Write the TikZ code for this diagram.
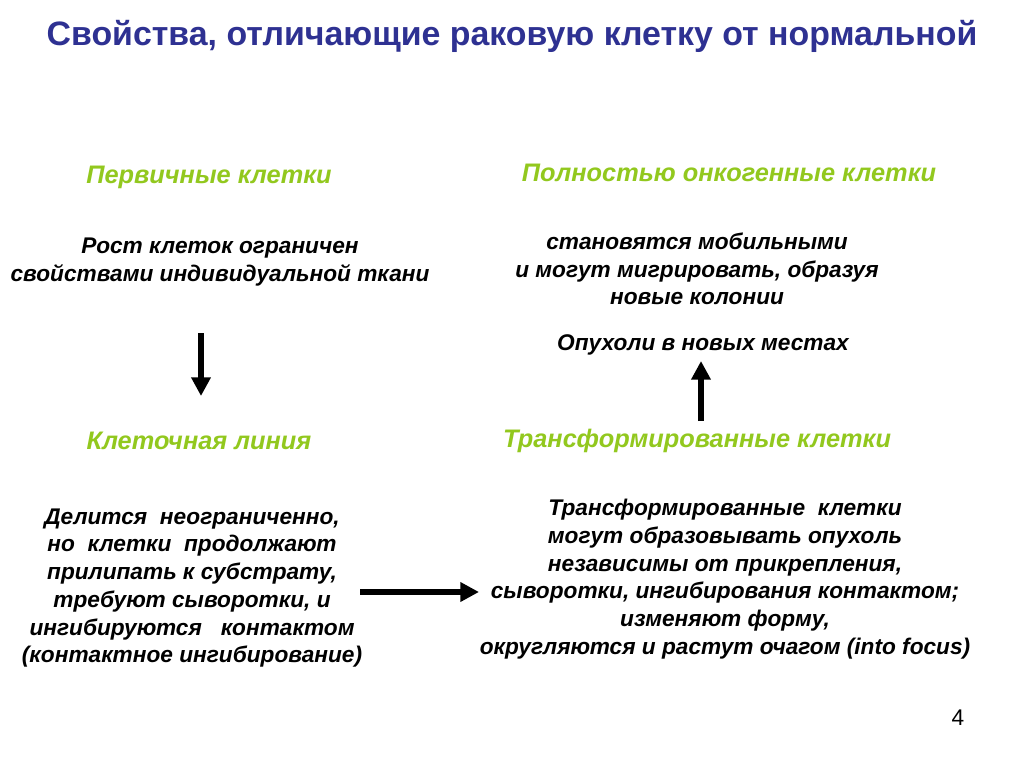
\documentclass[tikz,border=0pt]{standalone}
\usepackage{fontspec}
\setmainfont{Liberation Sans}
\usepackage{xcolor}
\usetikzlibrary{arrows.meta}
\definecolor{titleblue}{RGB}{46,49,146}
\definecolor{headgreen}{RGB}{146,200,30}

\begin{document}
\begin{tikzpicture}[
    x=0.75pt, y=-0.75pt,
    title/.style={font=\bfseries\fontsize{25.4}{30}\selectfont, text=titleblue, inner sep=0pt},
    heading/.style={font=\bfseries\itshape\fontsize{19}{22}\selectfont, text=headgreen, inner sep=0pt},
    body/.style={font=\bfseries\itshape\fontsize{17}{20.8}\selectfont, align=center, inner sep=0pt},
    bigarrow/.style={line width=4.8pt, -{Triangle[width=14pt,length=14pt]}}
  ]
    \useasboundingbox[fill=white] (0,0) rectangle (1024,767);
    % title
    \node[title] (title) at (512,36) {Свойства, отличающие раковую клетку от нормальной};
    % headings
    \node[heading] (primary) at (209,177) {Первичные клетки};
    \node[heading] (onco) at (729,173) {Полностью онкогенные клетки};
    \node[heading] (line) at (199,441) {Клеточная линия};
    \node[heading] (transf) at (697,441) {Трансформированные клетки};
    % texts
    \node[body] (growth) at (220,262) {Рост клеток ограничен\\свойствами индивидуальной ткани};
    \node[body] (mobile) at (697,269) {становятся мобильными\\и могут мигрировать, образуя\\новые колонии};
    \node[body] (tumours) at (703,345) {Опухоли в новых местах};
    \node[body] (divides) at (192,588) {Делится \ неограниченно,\\но \ клетки \ продолжают\\прилипать к субстрату,\\требуют сыворотки, и\\ингибируются \ \ контактом\\(контактное ингибирование)};
    \node[body] (forms) at (725,579) {Трансформированные \ клетки\\могут образовывать опухоль\\независимы от прикрепления,\\сыворотки, ингибирования контактом;\\изменяют форму,\\округляются и растут очагом (into focus)};
    \node[font=\fontsize{17}{20}\selectfont, inner sep=0pt] (page) at (958,718) {4};
    % arrows
    \coordinate (downA) at (201,333);
    \coordinate (downB) at (201,396);
    \coordinate (upA) at (701,421);
    \coordinate (upB) at (701,361);
    \coordinate (rightA) at (360,592);
    \coordinate (rightB) at (479,592);
    \draw[bigarrow] (downA) -- (downB);
    \draw[bigarrow] (upA) -- (upB);
    \draw[bigarrow] (rightA) -- (rightB);
\end{tikzpicture}
\end{document}
